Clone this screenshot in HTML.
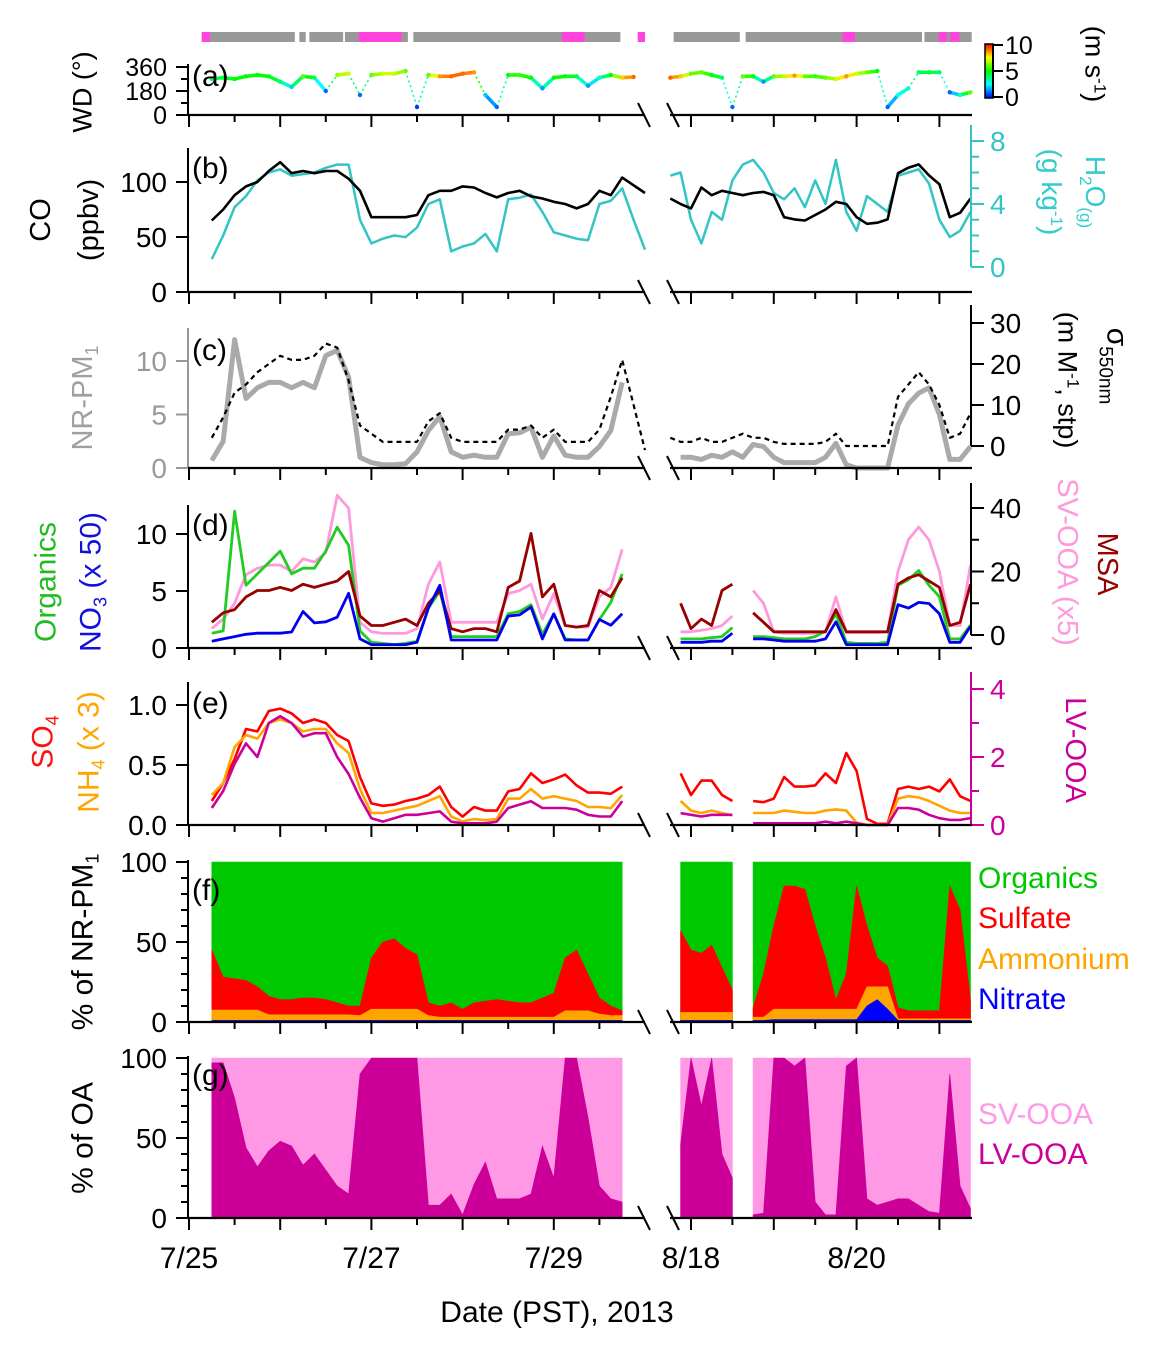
<!DOCTYPE html>
<html><head><meta charset="utf-8">
<style>
html,body{margin:0;padding:0;background:#fff;}
svg{display:block;font-family:"Liberation Sans",Arial,sans-serif;}
</style></head>
<body>
<svg id="chart" width="1174" height="1351" viewBox="0 0 1174 1351" xmlns="http://www.w3.org/2000/svg">
<defs>
<linearGradient id="cbgrad" x1="0" y1="1" x2="0" y2="0">
<stop offset="0" stop-color="#0000ff"/><stop offset="0.25" stop-color="#00ffff"/><stop offset="0.5" stop-color="#00ff00"/><stop offset="0.75" stop-color="#ffff00"/><stop offset="1" stop-color="#ff0000"/>
</linearGradient>
</defs>
<g id="marks"></g>
<g id="axes"></g>
<g font-size="28">
<text x="192" y="86" font-size="30">(a)</text>
<text x="192" y="178" font-size="30">(b)</text>
<text x="192" y="360" font-size="30">(c)</text>
<text x="192" y="535" font-size="30">(d)</text>
<text x="192" y="713" font-size="30">(e)</text>
<text x="192" y="900" font-size="30">(f)</text>
<text x="192" y="1085" font-size="30">(g)</text>

<text transform="translate(82,92) rotate(-90)" text-anchor="middle" dy="0.35em" font-size="27">WD (°)</text>
<text transform="translate(40,220) rotate(-90)" text-anchor="middle" dy="0.35em" font-size="29">CO</text>
<text transform="translate(88,220) rotate(-90)" text-anchor="middle" dy="0.35em" font-size="29">(ppbv)</text>
<text transform="translate(82,398) rotate(-90)" text-anchor="middle" dy="0.35em" font-size="29" fill="#a0a0a0">NR-PM<tspan font-size="18" dy="6">1</tspan></text>
<text transform="translate(45,582) rotate(-90)" text-anchor="middle" dy="0.35em" font-size="30" fill="#22bb22">Organics</text>
<text transform="translate(90,582) rotate(-90)" text-anchor="middle" dy="0.35em" font-size="30" fill="#1010dd">NO<tspan font-size="18" dy="6">3</tspan><tspan dy="-6"> (x 50)</tspan></text>
<text transform="translate(42,742) rotate(-90)" text-anchor="middle" dy="0.35em" font-size="30" fill="#ff1010">SO<tspan font-size="18" dy="6">4</tspan></text>
<text transform="translate(88,752) rotate(-90)" text-anchor="middle" dy="0.35em" font-size="30" fill="#ffa500">NH<tspan font-size="18" dy="6">4</tspan><tspan dy="-6"> (x 3)</tspan></text>
<text transform="translate(82,942) rotate(-90)" text-anchor="middle" dy="0.35em" font-size="30">% of NR-PM<tspan font-size="18" dy="6">1</tspan></text>
<text transform="translate(82,1138) rotate(-90)" text-anchor="middle" dy="0.35em" font-size="30">% of OA</text>

<text transform="translate(1095,64) rotate(90)" text-anchor="middle" dy="0.35em" font-size="27">(m s<tspan font-size="17" dy="-9">-1</tspan><tspan dy="9">)</tspan></text>
<text transform="translate(1096,192) rotate(90)" text-anchor="middle" dy="0.35em" font-size="28" fill="#33cccc">H<tspan font-size="17" dy="6">2</tspan><tspan dy="-6">O</tspan><tspan font-size="17" dy="6">(g)</tspan></text>
<text transform="translate(1052,192) rotate(90)" text-anchor="middle" dy="0.35em" font-size="28" fill="#33cccc">(g kg<tspan font-size="17" dy="-9">-1</tspan><tspan dy="9">)</tspan></text>
<text transform="translate(1118,366) rotate(90)" text-anchor="middle" dy="0.35em" font-size="30">σ<tspan font-size="19" dy="8">550nm</tspan></text>
<text transform="translate(1068,380) rotate(90)" text-anchor="middle" dy="0.35em" font-size="27">(m M<tspan font-size="17" dy="-9">-1</tspan><tspan dy="9">, stp)</tspan></text>
<text transform="translate(1068,562) rotate(90)" text-anchor="middle" dy="0.35em" font-size="29" fill="#ff99dd">SV-OOA (x5)</text>
<text transform="translate(1108,564) rotate(90)" text-anchor="middle" dy="0.35em" font-size="29" fill="#990000">MSA</text>
<text transform="translate(1076,750) rotate(90)" text-anchor="middle" dy="0.35em" font-size="29" fill="#cc0099">LV-OOA</text>

<text x="978" y="888" font-size="30" fill="#00c800">Organics</text>
<text x="978" y="928" font-size="30" fill="#ff0000">Sulfate</text>
<text x="978" y="969" font-size="30" fill="#ffa500">Ammonium</text>
<text x="978" y="1009" font-size="30" fill="#0000ff">Nitrate</text>
<text x="978" y="1124" font-size="30" fill="#ff99e6">SV-OOA</text>
<text x="978" y="1164" font-size="30" fill="#cc0099">LV-OOA</text>

<text x="557" y="1322" text-anchor="middle" font-size="30">Date (PST), 2013</text>
</g>
</svg>
<script>
// ---- time grids (days since 7/25 00:00 for left, since 8/18 00:00 for right)
const leftT = [0.25,0.375,0.5,0.625,0.75,0.875,1,1.125,1.25,1.375,1.5,1.625,1.75,1.875,2,2.125,2.25,2.375,2.5,2.625,2.75,2.875,3,3.125,3.25,3.375,3.5,3.625,3.75,3.875,4,4.125,4.25,4.375,4.5,4.625,4.75,4.875,5];
const rightT = [-0.25,-0.125,0,0.125,0.25,0.375,0.5,0.625,0.75,0.875,1,1.125,1.25,1.375,1.5,1.625,1.75,1.875,2,2.125,2.25,2.375,2.5,2.625,2.75,2.875,3,3.125,3.25,3.375];
const leftTickDays = [0,0.5,1,1.5,2,2.5,3,3.5,4,4.5];
const rightTickDays = [0,0.5,1,1.5,2,2.5,3];
const xLabelsLeft = [[0,'7/25'],[2,'7/27'],[4,'7/29']];
const xLabelsRight = [[0,'8/18'],[2,'8/20']];
// ---- (a) wind direction / speed
const wdL = [270,280,270,290,300,290,250,210,290,280,180,300,310,150,300,310,310,330,60,300,290,290,310,320,150,60,300,300,280,200,280,290,290,220,280,300,280,285,null];
const wsL = [4,4.5,5,5,5,5,4,2,6,4,1,6.5,7,1,6,7,7,6,0.5,6,8.5,9,9,8.5,2,1,5,5.5,5,1.5,5,5,4.5,1.5,3,5,8,9,null];
const wdR = [280,290,310,320,300,280,60,290,290,250,290,290,295,290,290,280,270,290,310,320,330,60,150,200,320,320,320,170,150,170];
const wsR = [9,8,6,6,5,4,1,6,5,1.5,6,7,8.5,6,5.5,6,7,8.5,7,6,5,1,2.5,3,4,4.5,4,1,3,6];
const graySegL = [[0.14,1.16],[1.21,1.28],[1.32,1.69],[1.71,2.40],[2.46,4.73]];
const pinkSegL = [[0.14,0.23],[1.86,2.33],[4.09,4.34],[4.92,5.0]];
const graySegR = [[-0.21,0.59],[0.66,2.79],[2.82,3.39]];
const pinkSegR = [[1.83,1.98],[2.99,3.09],[3.13,3.24]];
// ---- (b) CO and H2O
const coL = [65,75,88,96,100,110,118,108,110,108,110,110,103,92,68,68,68,68,70,88,92,92,96,95,90,86,90,92,87,85,82,80,76,80,92,88,104,97,90];
const h2oL = [0.5,2,3.8,4.5,5.5,6,6.2,5.8,5.9,6,6.3,6.5,6.5,3,1.5,1.8,2,1.9,2.5,4,4.3,1.0,1.3,1.5,2.1,1.0,4.3,4.4,4.6,3.5,2.2,2.0,1.8,1.7,4.0,4.2,5.0,3.0,1.1];
const coR = [85,80,76,95,88,92,90,88,90,91,88,68,66,65,70,75,82,80,68,62,63,66,108,113,116,106,98,68,72,85];
const h2oR = [5.8,6.0,3.0,1.5,3.5,3.0,5.5,6.5,6.8,6.0,4.7,4.3,5.0,3.8,5.5,4.0,6.8,3.5,2.3,4.5,4.0,3.5,5.8,6.0,6.2,5.3,3.0,1.9,2.3,3.5];
// ---- (c) NR-PM1 and scattering
const pmL = [0.7,2.5,12,6.5,7.5,8,8,7.5,8,7.5,10.5,11,8.5,1,0.5,0.3,0.3,0.4,1.5,3.5,4.8,1.5,1,1.2,1,1,3.2,3.3,3.8,1,3,1.2,1,1,2,3.5,8,null,null];
const sigL = [2,7,13,15,18,20,22,21,21,22,25,24,16,5,3,1,1,1,1,6,8,2,1,1,1,1,4,4,5,2,4,1,1,1,4,12,21,10,-1];
const pmR = [null,1,1,0.8,1.2,1,1.5,1,2.2,2,1,0.5,0.5,0.5,0.5,1,2.3,0.3,0,0,0,0,4,6,7,7.5,5,0.8,0.8,2];
const sigR = [2,1,1,2,1,1,2,3,2,2,1,0.5,0.5,0.5,0.5,1,3,0,0,0,0,0,12,15,18,15,10,2,3,8];
// ---- (d) organics, NO3 x50, MSA, SV-OOA x5
const orgL = [1.3,1.5,12,5.5,6.5,7.5,8.5,6.5,7,7,8.5,10.6,9,1.5,0.5,0.4,0.3,0.4,0.6,3.5,5,1,1,1,1,1,3,3.2,3.8,1.2,3,0.8,0.7,0.7,2.5,4,6.5,null,null];
const no3L = [0.6,0.8,1.0,1.2,1.3,1.3,1.3,1.4,3.2,2.2,2.3,2.7,4.8,0.8,0.3,0.3,0.3,0.3,0.5,3.5,5.5,0.7,0.7,0.7,0.7,0.7,2.8,2.9,3.6,0.8,3,0.7,0.7,0.7,2.5,2,3,null,null];
const msaL = [4,7,8,12,14,14,15,14,16,15,16,17,20,6,3,3,4,5,3,10,14,2,1,2,2,1,15,17,32,12,16,3,2.5,3,14,12,18,null,null];
const svL = [2,5,10,19,21,22,22,20,24,23,26,44,40,4,1,0.5,0.5,0.5,2,16,23,4,4,4,4,4,13,14,16,5,13,3,2.5,2.5,12,15,27,null,null];
const orgR = [null,0.8,0.8,0.8,0.9,1.0,1.8,null,1.0,1.0,0.9,0.8,0.8,0.8,1.0,1.5,3,0.5,0.4,0.4,0.4,0.5,5.5,6,6.8,5.5,4.5,0.8,0.8,2];
const no3R = [null,0.5,0.5,0.5,0.6,0.6,1.3,null,0.8,0.8,0.7,0.6,0.6,0.6,0.6,0.8,2.3,0.3,0.3,0.3,0.3,0.3,3.8,3.5,4,3.9,3,0.5,0.5,1.9];
const msaR = [null,10,2,5,3,14,16,null,7,4,1,1,1,1,1,1,8,1,1,1,1,1,16,18,19,17,15,3,4,16];
const svR = [null,1,1,1.5,2,3,6,null,14,10,1,0.5,0.5,0.5,0.5,1,12,0.8,0.8,0.8,0.8,1,20,30,34,30,20,3,3,22];
// ---- (e) SO4, NH4 x3, LV-OOA
const so4L = [0.2,0.35,0.55,0.8,0.78,0.95,0.97,0.93,0.85,0.88,0.85,0.75,0.7,0.4,0.18,0.16,0.17,0.2,0.22,0.25,0.32,0.15,0.07,0.15,0.12,0.12,0.28,0.3,0.43,0.35,0.38,0.42,0.33,0.27,0.27,0.26,0.32,null,null];
const nh4L = [0.25,0.35,0.65,0.75,0.72,0.85,0.88,0.85,0.78,0.8,0.8,0.68,0.6,0.3,0.1,0.1,0.12,0.14,0.16,0.2,0.24,0.07,0.03,0.05,0.04,0.05,0.22,0.22,0.3,0.22,0.24,0.22,0.2,0.15,0.15,0.14,0.25,null,null];
const lvL = [0.5,1.0,1.8,2.4,2.0,3.0,3.2,3.0,2.6,2.7,2.7,2.0,1.5,0.8,0.2,0.1,0.2,0.3,0.3,0.35,0.4,0.1,0.05,0.05,0.05,0.1,0.5,0.6,0.7,0.5,0.5,0.5,0.45,0.3,0.25,0.25,0.7,null,null];
const so4R = [null,0.43,0.25,0.37,0.37,0.25,0.2,null,0.2,0.19,0.22,0.4,0.32,0.32,0.33,0.43,0.35,0.6,0.45,0.05,0.01,0.01,0.3,0.32,0.3,0.32,0.28,0.38,0.24,0.2];
const nh4R = [null,0.2,0.12,0.1,0.12,0.1,0.08,null,0.1,0.1,0.1,0.12,0.11,0.1,0.1,0.12,0.13,0.12,0.02,0,0,0,0.22,0.24,0.23,0.2,0.16,0.12,0.1,0.1];
const lvR = [null,0.35,0.3,0.25,0.3,0.3,0.3,null,0.05,0.05,0.05,0.05,0.05,0.05,0.05,0.1,0.05,0.1,0.05,0,0,0,0.5,0.5,0.45,0.3,0.2,0.15,0.15,0.2];
// ---- (f) % composition
const nitPctL = [1,1,1,1,1,1,1,1,1,1,1,1,1,1,1,1,1,1,1,1,1,1,1,1,1,1,1,1,1,1,1,1,1,1,1,1,1,null,null];
const ammPctL = [6.5,6.5,6.5,6.5,6.5,3.5,3.5,3.5,3.5,3.5,3.5,3.5,3.5,3,7,7,7,7,7,3,2,2,2,2,2,2,2,2,2,2,2,6,6,6,4,3,3,null,null];
const sulPctL = [37.5,20.5,19.5,18.5,14.5,11.5,9.5,9.5,10.5,10.5,9.5,7.5,5.5,6,32,42,44,38,34,8,7,9,5,9,10,11,10,9,9,12,15,33,38,23,10,6,3,null,null];
const nitPctR = [null,1,1,1,1,1,1,null,1,1,1.5,1.5,1.5,1.5,1.5,1.5,1.5,1.5,1.5,10,14,8,1,1,1,1,1,1,1,1];
const ammPctR = [null,5,5,5,5,5,5,null,2,2,6.5,6.5,6.5,6.5,6.5,6.5,6.5,6.5,6.5,12,8,14,1,1,1,1,1,1,1,1];
const sulPctR = [null,51,39,37,42,28,14,null,6,27,52,77,77,75,52,32,6,22,77,38,18,13,7,5,5,5,5,83,68,12];
// ---- (g) % LV-OOA of OA
const lvPctL = [97,97,75,44,32,42,48,45,33,40,30,20,15,90,100,100,100,100,100,8,8,15,2,21,35,12,12,12,15,45,25,100,100,63,20,12,10,null,null];
const lvPctR = [null,46,100,70,100,40,25,null,2,3,100,100,95,100,10,2,2,95,100,12,8,10,12,12,8,4,3,90,20,6];

const NS = 'http://www.w3.org/2000/svg';
const marks = document.getElementById('marks');
const axes = document.getElementById('axes');
function add(parent, tag, attrs, name) {
  const el = document.createElementNS(NS, tag);
  for (const k in attrs) el.setAttribute(k, attrs[k]);
  
  
  parent.appendChild(el);
  return el;
}
const xL = t => 189 + 91.2 * t;
const xR = t => 691 + 82.8 * t;
const SIDES = [{T: leftT, xf: xL, s: 'left'}, {T: rightT, xf: xR, s: 'right'}];

const aY = v => 115 - v * 48 / 360;
const bY = v => 292 - 1.1 * v, bY2 = v => 267 - 15.75 * v;
const cY = v => 468 - 10.7 * v, cY2 = v => 446 - 4.1 * v;
const dY = v => 648 - 11.4 * v, dY2 = v => 635 - 3.175 * v;
const eY = v => 825 - 120 * v, eY2 = v => 825 - 34 * v;
const fY = v => 1022 - 1.6 * v, gY = v => 1218 - 1.6 * v;

function pathOf(T, V, xf, yf) {
  let d = '', pen = false;
  for (let i = 0; i < T.length; i++) {
    if (V[i] == null) { pen = false; continue; }
    d += (pen ? 'L' : 'M') + xf(T[i]).toFixed(1) + ',' + yf(V[i]).toFixed(1);
    pen = true;
  }
  return d;
}
function drawSeries(VL, VR, yf, stroke, width, name, dash) {
  [[VL, SIDES[0]], [VR, SIDES[1]]].forEach(([V, S]) => {
    const p = add(marks, 'path', {d: pathOf(S.T, V, S.xf, yf), fill: 'none', stroke: stroke, 'stroke-width': width, 'stroke-linejoin': 'round'}, name + '-' + S.s);
    if (dash) p.setAttribute('stroke-dasharray', dash);
  });
}
function runs(V) {
  const out = []; let cur = null;
  for (let i = 0; i < V.length; i++) {
    if (V[i] == null) { if (cur) { out.push(cur); cur = null; } continue; }
    if (!cur) cur = []; cur.push(i);
  }
  if (cur) out.push(cur);
  return out;
}
function drawArea(T, V, xf, yf, fill, name) {
  runs(V).forEach(r => {
    let d = 'M' + xf(T[r[0]]).toFixed(1) + ',' + yf(0).toFixed(1);
    r.forEach(i => { d += 'L' + xf(T[i]).toFixed(1) + ',' + yf(V[i]).toFixed(1); });
    d += 'L' + xf(T[r[r.length - 1]]).toFixed(1) + ',' + yf(0).toFixed(1) + 'Z';
    add(marks, 'path', {d: d, fill: fill, stroke: fill, 'stroke-width': 0.6}, name);
  });
}
function wsColor(ws) {
  const h = Math.max(0, Math.min(240, 240 * (1 - ws / 10)));
  return 'hsl(' + h.toFixed(0) + ',100%,50%)';
}

// ---- top status bar
[[graySegL, xL, '#999999', 'sampling-bar-gray'], [pinkSegL, xL, '#ff44dd', 'sampling-bar-pink'],
 [graySegR, xR, '#999999', 'sampling-bar-gray'], [pinkSegR, xR, '#ff44dd', 'sampling-bar-pink']].forEach(([segs, xf, col, nm]) => {
  segs.forEach(s => {
    add(marks, 'rect', {x: xf(s[0]), y: 32, width: xf(s[1]) - xf(s[0]), height: 10, fill: col}, nm);
  });
});

// ---- (a) wind direction colored by speed
[[wdL, wsL, SIDES[0]], [wdR, wsR, SIDES[1]]].forEach(([WD, WS, S]) => {
  for (let i = 0; i < S.T.length; i++) {
    if (WD[i] == null) continue;
    if (i + 1 < S.T.length && WD[i + 1] != null) {
      const big = Math.abs(WD[i + 1] - WD[i]) >= 120;
      add(marks, 'line', {x1: S.xf(S.T[i]), y1: aY(WD[i]), x2: S.xf(S.T[i + 1]), y2: aY(WD[i + 1]), stroke: wsColor((WS[i] + WS[i + 1]) / 2), 'stroke-width': big ? 1.6 : 3.5, 'stroke-dasharray': big ? '2,3' : 'none'}, 'wind-direction-trace');
    }
    add(marks, 'circle', {cx: S.xf(S.T[i]), cy: aY(WD[i]), r: 2.2, fill: wsColor(WS[i])}, 'wind-direction-point');
  }
});
add(axes, 'rect', {x: 985, y: 44, width: 8, height: 54, fill: 'url(#cbgrad)', stroke: '#000', 'stroke-width': 1.5}, 'wind-speed-colorbar');
[[10, '10'], [5, '5'], [0, '0']].forEach(([v, lab]) => {
  const y = 97 - v * 5.2;
  add(axes, 'line', {x1: 993, y1: y, x2: 1003, y2: y, stroke: '#000', 'stroke-width': 2}, 'colorbar-tick');
  const t = add(axes, 'text', {x: 1005, y: y, dy: '0.35em', 'font-size': 25}, 'colorbar-tick-label');
  t.textContent = lab;
});
add(axes, 'line', {x1: 993, y1: 45, x2: 993, y2: 97, stroke: '#000', 'stroke-width': 2}, 'colorbar-axis');

drawSeries(h2oL, h2oR, bY2, '#33c4c4', 2.5, 'h2o-line');
drawSeries(coL, coR, bY, '#000', 2.6, 'co-line');
drawSeries(pmL, pmR, cY, '#aaaaaa', 5, 'nrpm1-line');
drawSeries(sigL, sigR, cY2, '#000', 2.2, 'scattering-line', '5,4');
drawSeries(svL, svR, dY2, '#ff99dd', 2.8, 'sv-ooa-line');
drawSeries(orgL, orgR, dY, '#22cc22', 2.8, 'organics-line');
drawSeries(msaL, msaR, dY2, '#990000', 2.8, 'msa-line');
drawSeries(no3L, no3R, dY, '#0000ee', 2.8, 'no3-line');
drawSeries(so4L, so4R, eY, '#ff0000', 2.6, 'so4-line');
drawSeries(nh4L, nh4R, eY, '#ffa500', 2.6, 'nh4-line');
drawSeries(lvL, lvR, eY2, '#cc0099', 2.6, 'lv-ooa-line');
[[nitPctL, ammPctL, sulPctL, SIDES[0]], [nitPctR, ammPctR, sulPctR, SIDES[1]]].forEach(([N, A, Su, S]) => {
  const full = N.map(v => v == null ? null : 100);
  const redTop = N.map((v, i) => v == null ? null : v + A[i] + Su[i]);
  const orTop = N.map((v, i) => v == null ? null : v + A[i]);
  drawArea(S.T, full, S.xf, fY, '#00c800', 'organics-area');
  drawArea(S.T, redTop, S.xf, fY, '#ff0000', 'sulfate-area');
  drawArea(S.T, orTop, S.xf, fY, '#ffa500', 'ammonium-area');
  drawArea(S.T, N, S.xf, fY, '#0000ff', 'nitrate-area');
});
[[lvPctL, SIDES[0]], [lvPctR, SIDES[1]]].forEach(([L, S]) => {
  const full = L.map(v => v == null ? null : 100);
  drawArea(S.T, full, S.xf, gY, '#ff99e6', 'sv-ooa-area');
  drawArea(S.T, L, S.xf, gY, '#cc0099', 'lv-ooa-area');
});

function leftAxis(top, bot, yf, ticks, minors, color, fs, name) {
  add(axes, 'line', {x1: 188, y1: top, x2: 188, y2: bot, stroke: color, 'stroke-width': 2}, name + '-line');
  ticks.forEach(([v, lab]) => {
    add(axes, 'line', {x1: 176, y1: yf(v), x2: 188, y2: yf(v), stroke: color, 'stroke-width': 2}, name + '-tick');
    const t = add(axes, 'text', {x: 167, y: yf(v), dy: '0.35em', 'text-anchor': 'end', 'font-size': fs, fill: color}, name + '-tick-label');
    t.textContent = lab;
  });
  minors.forEach(v => {
    add(axes, 'line', {x1: 181, y1: yf(v), x2: 188, y2: yf(v), stroke: color, 'stroke-width': 2}, name + '-minor-tick');
  });
}
function rightAxis(top, bot, yf, ticks, minors, color, name) {
  add(axes, 'line', {x1: 971, y1: top, x2: 971, y2: bot, stroke: color, 'stroke-width': 2}, name + '-line');
  ticks.forEach(([v, lab]) => {
    add(axes, 'line', {x1: 971, y1: yf(v), x2: 984, y2: yf(v), stroke: color, 'stroke-width': 2}, name + '-tick');
    const t = add(axes, 'text', {x: 990, y: yf(v), dy: '0.35em', 'font-size': 28, fill: color}, name + '-tick-label');
    t.textContent = lab;
  });
  minors.forEach(v => {
    add(axes, 'line', {x1: 971, y1: yf(v), x2: 979, y2: yf(v), stroke: color, 'stroke-width': 2}, name + '-minor-tick');
  });
}
function bottomAxis(y, name, labels) {
  add(axes, 'line', {x1: 188, y1: y, x2: 645, y2: y, stroke: '#000', 'stroke-width': 2.2}, name + '-left-line');
  add(axes, 'line', {x1: 670, y1: y, x2: 972, y2: y, stroke: '#000', 'stroke-width': 2.2}, name + '-right-line');
  leftTickDays.forEach(d => {
    const major = (d % 1 === 0);
    add(axes, 'line', {x1: xL(d), y1: y, x2: xL(d), y2: y + (major ? 12 : 7), stroke: '#000', 'stroke-width': 2}, name + '-tick');
  });
  rightTickDays.forEach(d => {
    const major = (d % 1 === 0);
    add(axes, 'line', {x1: xR(d), y1: y, x2: xR(d), y2: y + (major ? 12 : 7), stroke: '#000', 'stroke-width': 2}, name + '-tick');
  });
  add(axes, 'line', {x1: 638, y1: y - 12, x2: 650, y2: y + 12, stroke: '#000', 'stroke-width': 2}, name + '-break-mark');
  add(axes, 'line', {x1: 667, y1: y - 12, x2: 679, y2: y + 12, stroke: '#000', 'stroke-width': 2}, name + '-break-mark');
  if (labels) {
    xLabelsLeft.forEach(([d, lab]) => {
      const t = add(axes, 'text', {x: xL(d), y: 1268, 'text-anchor': 'middle', 'font-size': 30}, 'x-tick-label');
      t.textContent = lab;
    });
    xLabelsRight.forEach(([d, lab]) => {
      const t = add(axes, 'text', {x: xR(d), y: 1268, 'text-anchor': 'middle', 'font-size': 30}, 'x-tick-label');
      t.textContent = lab;
    });
  }
}
leftAxis(64, 115, aY, [[0, '0'], [180, '180'], [360, '360']], [90, 270], '#000', 25, 'wd-axis');
bottomAxis(115, 'x-axis-a');
leftAxis(148, 292, bY, [[0, '0'], [50, '50'], [100, '100']], [], '#000', 28, 'co-axis');
rightAxis(125, 267, bY2, [[0, '0'], [4, '4'], [8, '8']], [1, 2, 3, 5, 6, 7], '#33c4c4', 'h2o-axis');
bottomAxis(292, 'x-axis-b');
leftAxis(328, 468, cY, [[0, '0'], [5, '5'], [10, '10']], [], '#999999', 28, 'nrpm1-axis');
rightAxis(305, 446, cY2, [[0, '0'], [10, '10'], [20, '20'], [30, '30']], [], '#000', 'sigma-axis');
bottomAxis(468, 'x-axis-c');
leftAxis(505, 648, dY, [[0, '0'], [5, '5'], [10, '10']], [], '#000', 28, 'organics-axis');
rightAxis(483, 635, dY2, [[0, '0'], [20, '20'], [40, '40']], [10, 30], '#000', 'msa-axis');
bottomAxis(648, 'x-axis-d');
leftAxis(682, 825, eY, [[0, '0.0'], [0.5, '0.5'], [1, '1.0']], [], '#000', 28, 'so4-axis');
rightAxis(672, 825, eY2, [[0, '0'], [2, '2'], [4, '4']], [1, 3], '#cc0099', 'lv-ooa-axis');
bottomAxis(825, 'x-axis-e');
leftAxis(860, 1022, fY, [[0, '0'], [50, '50'], [100, '100']], [10, 20, 30, 40, 60, 70, 80, 90], '#000', 28, 'nrpm1-percent-axis');
bottomAxis(1022, 'x-axis-f');
leftAxis(1056, 1218, gY, [[0, '0'], [50, '50'], [100, '100']], [10, 20, 30, 40, 60, 70, 80, 90], '#000', 28, 'oa-percent-axis');
bottomAxis(1218, 'x-axis-g', true);
</script>
</body></html>
